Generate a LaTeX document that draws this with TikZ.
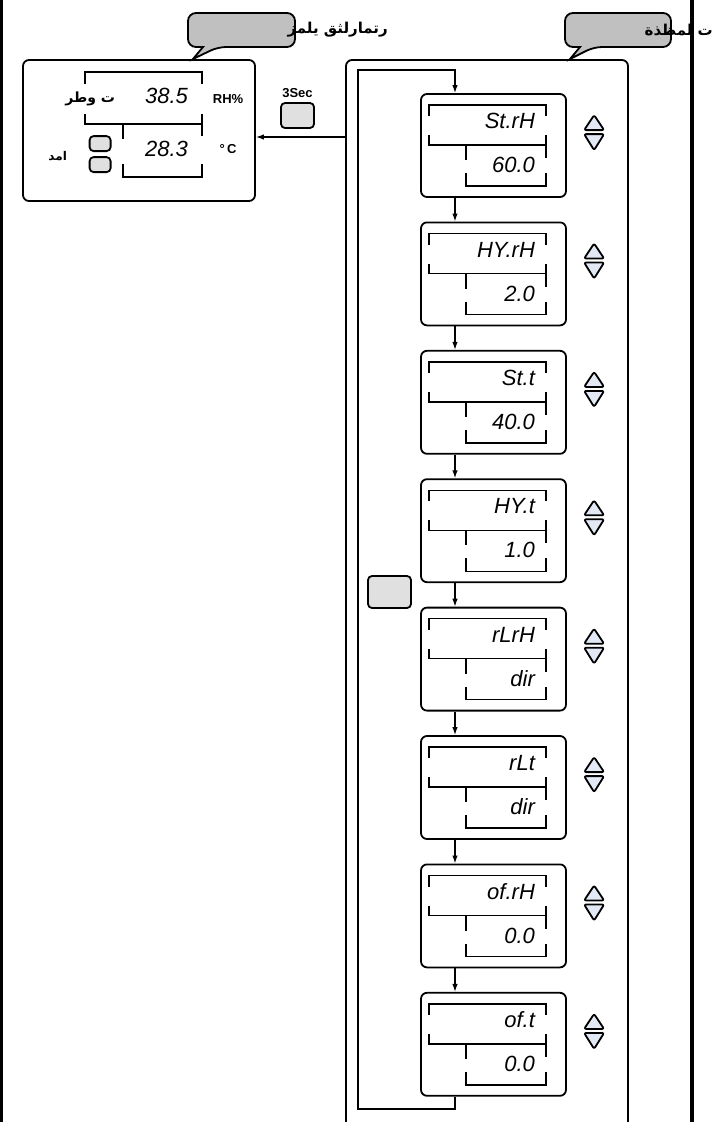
\documentclass[tikz,border=0pt]{standalone}
\usepackage{fontspec}
\setmainfont{Liberation Sans}
\newfontfamily\arabicfont[Script=Arabic]{DejaVu Sans}
\TeXXeTstate=1
\usetikzlibrary{arrows.meta,positioning}
\definecolor{bubblegray}{RGB}{192,192,192}
\definecolor{keygray}{RGB}{224,224,224}
\definecolor{keyblue}{RGB}{226,233,244}

\begin{document}
\begin{tikzpicture}[x=1pt,y=-1pt,
  dispbox/.style={draw,rounded corners=6,line width=1.8,inner sep=0},
  menubox/.style={dispbox,minimum width=145,minimum height=103},
  lcdframe/.style={line width=1.5},
  keybtn/.style={draw,fill=keygray,rounded corners=4,line width=1.8,inner sep=0},
  updown/.style={draw,fill=keyblue,line width=1.8,rounded corners=2,line join=round},
  arr/.style={line width=1.3,-{Latex[length=8pt,width=5.5pt]}},
  lcd/.style={font=\fontsize{22}{22}\selectfont\itshape,inner sep=0,anchor=east},
  lbl/.style={font=\fontsize{13}{13}\selectfont\bfseries,inner sep=0},
  arlbl/.style={font=\arabicfont\fontsize{15}{15}\selectfont\bfseries,inner sep=0},
  bubble/.style={draw,fill=bubblegray,line width=1.8}]
  \useasboundingbox (0,0) rectangle (716,1122);

  % callouts and titles
  \draw[bubble] (193,59) -- (203,47) [rounded corners=8] -- (188,47) -- (188,13) -- (295,13) -- (295,47) -- (218,47) [sharp corners] -- cycle;
  \draw[bubble] (570,59) -- (580,47) [rounded corners=8] -- (565,47) -- (565,13) -- (671,13) -- (671,47) -- (594,47) [sharp corners] -- cycle;
  \node[arlbl,anchor=east] (tleft) at (388,30) {\beginR رتمارلثق يلمز\endR};
  \node[arlbl,anchor=east] (tright) at (713,30) {\beginR ت لمظذة\endR};

  % side rules
  \draw[line width=3] (1.5,0) -- (1.5,1122);
  \draw[line width=4] (692,0) -- (692,1122);

  % main display
  \node[dispbox,minimum width=232,minimum height=141] (disp) at (139,130.5) {};
  \begin{scope}[shift={(disp.north west)}]
    \draw[lcdframe] (63,25) -- (63,13) -- (180,13) -- (180,25) (63,55) -- (63,65) -- (180,65) (180,55) -- (180,77)
      (101,65) -- (101,80) (101,105) -- (101,118) -- (180,118) -- (180,105);
    \node[lcd] (rh) at (166,37) {38.5};
    \node[lcd] (tc) at (166,90) {28.3};
    \node[lbl] (rhunit) at (206,40) {RH\%};
    \node[lbl] (tcunit) at (206,90) {°\,C};
    \node[keybtn,minimum width=21,minimum height=15] (ka) at (78,84.5) {};
    \node[keybtn,minimum width=21,minimum height=15] (kb) at (78,105.5) {};
    \node[arlbl,anchor=east,font=\arabicfont\fontsize{14}{14}\selectfont\bfseries] (rhname) at (93,40) {\beginR ت وطر\endR};
    \node[arlbl,anchor=east,font=\arabicfont\fontsize{12}{12}\selectfont\bfseries] (tcname) at (45,97) {\beginR امد\endR};
  \end{scope}

  % 3 sec key
  \node[keybtn,minimum width=33,minimum height=25] (k3s) at (297.5,115.5) {};
  \node[lbl] (t3s) at (297.5,93) {3Sec};

  % settings panel
  \draw[line width=1.8,rounded corners=6] (346,1135) |- (628,60) -- (628,1135);
  \coordinate (pin) at (346,137);
  \draw[arr] (pin) -- (pin -| disp.east);
  \node[keybtn,minimum width=43,minimum height=32] (kmenu) at (389.5,592) {};

  \foreach \ptxt/\pval [count=\i] in {St.rH/60.0,HY.rH/2.0,St.t/40.0,HY.t/1.0,rLrH/dir,rLt/dir,of.rH/0.0,of.t/0.0}{
    \node[menubox] (m\i) at (493.5,{145.5+128.4*(\i-1)}) {};
    \begin{scope}[shift={(m\i.north west)}]
      \draw[lcdframe] (9,23) -- (9,12) -- (126,12) -- (126,23) (9,42) -- (9,52) -- (126,52) (126,42) -- (126,65)
        (46,52) -- (46,67) (46,80) -- (46,93) -- (126,93) -- (126,80);
      \node[lcd] (p\i) at (115,28) {\ptxt};
      \node[lcd] (v\i) at (115,72) {\pval};
      \draw[updown] (164,37) -- (174,22) -- (184,37) -- cycle;
      \draw[updown] (164,41) -- (184,41) -- (174,57) -- cycle;
    \end{scope}
  }
  \foreach \i [count=\j from 2] in {1,...,7}
    \draw[arr] ([xshift=-38.5]m\i.south) -- ([xshift=-38.5]m\j.north);

  % loop back to first entry
  \coordinate (lb) at (358,1109);
  \coordinate (lt) at (358,70);
  \draw[arr] ([xshift=-38.5]m8.south) |- (lb) -- (lt) -| ([xshift=-38.5]m1.north);
\end{tikzpicture}
\end{document}
